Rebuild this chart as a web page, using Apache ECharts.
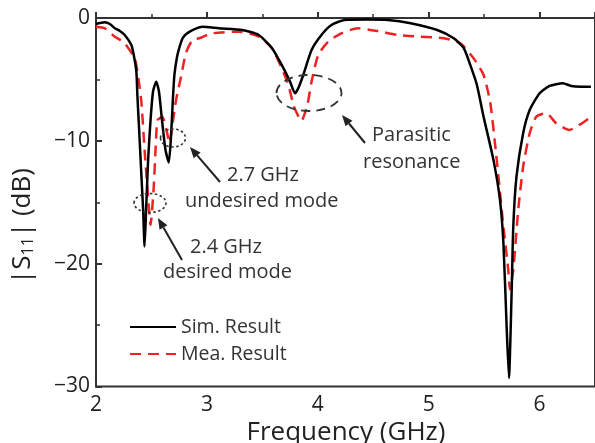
<!DOCTYPE html>
<html>
<head>
<meta charset="utf-8">
<script src="https://cdn.jsdelivr.net/npm/echarts@6/dist/echarts.min.js"></script>
<style>
html,body{margin:0;padding:0;background:#fff;}
#chart{width:595px;height:443px;}
</style>
</head>
<body>
<div id="chart"></div>
<script>
// Simulated |S11| (GHz, dB)
var simFreq = [2.000,2.036,2.080,2.125,2.170,2.215,2.259,2.319,2.340,2.364,2.373,2.389,2.407,2.425,2.438,2.452,2.470,2.492,2.514,2.543,2.568,2.595,2.626,2.656,2.675,2.693,2.707,2.729,2.751,2.781,2.814,2.870,2.960,3.109,3.318,3.467,3.586,3.675,3.750,3.795,3.825,3.869,3.944,4.033,4.123,4.242,4.451,4.630,4.838,5.077,5.226,5.316,5.375,5.435,5.495,5.584,5.643,5.674,5.703,5.724,5.748,5.763,5.792,5.852,5.911,6.001,6.090,6.210,6.284,6.374,6.463];
var simDb   = [-0.49,-0.41,-0.35,-0.49,-0.84,-1.06,-1.38,-2.20,-3.0,-4.37,-6.27,-9.1,-12.4,-15.6,-18.6,-15.6,-11.55,-8.3,-6.0,-5.18,-6.0,-8.3,-10.7,-11.77,-9.9,-6.67,-4.64,-3.25,-2.44,-1.65,-1.30,-0.98,-0.71,-0.84,-0.98,-1.38,-2.44,-3.82,-5.18,-6.13,-5.7,-4.64,-2.6,-1.38,-0.57,-0.16,-0.12,-0.16,-0.43,-0.98,-1.65,-2.44,-3.82,-5.45,-8.03,-11.55,-14.8,-18.3,-25.1,-29.3,-22.4,-17.0,-12.9,-9.38,-7.49,-6.13,-5.53,-5.31,-5.53,-5.59,-5.59];
// Measured |S11| (GHz, dB)
var meaFreq = [2.000,2.080,2.170,2.259,2.349,2.378,2.409,2.438,2.465,2.492,2.519,2.537,2.555,2.599,2.635,2.662,2.689,2.722,2.767,2.811,2.870,2.930,3.047,3.288,3.467,3.586,3.675,3.735,3.780,3.798,3.852,3.906,3.944,4.004,4.093,4.212,4.361,4.540,4.719,4.928,5.137,5.286,5.405,5.495,5.554,5.598,5.629,5.674,5.718,5.733,5.763,5.808,5.852,5.911,5.971,6.061,6.150,6.269,6.374,6.463];
var meaDb   = [-0.71,-0.84,-1.52,-2.06,-3.28,-4.64,-6.81,-10.74,-14.0,-16.84,-14.0,-10.74,-8.3,-8.06,-9.11,-10.17,-8.7,-6.67,-4.78,-2.85,-1.79,-1.65,-1.25,-1.11,-1.52,-2.44,-4.09,-5.45,-7.08,-7.49,-8.38,-7.08,-5.18,-3.01,-1.93,-1.25,-0.84,-1.06,-1.38,-1.52,-1.65,-2.06,-3.28,-4.64,-6.81,-10.2,-12.9,-17.0,-20.5,-22.1,-20.5,-15.6,-12.1,-9.38,-8.03,-7.75,-8.57,-9.11,-8.62,-8.06];
// Axis ticks
var xTicks = [2,3,4,5,6];
var yTicks = [-30,-20,-10,0];
var seriesNames = ['Sim. Result','Mea. Result'];

function pairs(xs, ys){ var out=[]; for(var i=0;i<xs.length;i++) out.push([xs[i], ys[i]]); return out; }

var FONT = '"Open Sans", "Noto Sans", Arial, sans-serif';
var TXT = '#333';

function arrow(x1,y1,x2,y2){
  var dx=x2-x1, dy=y2-y1, L=Math.sqrt(dx*dx+dy*dy), ux=dx/L, uy=dy/L;
  var hl=11, hw=4.5;
  var bx=x2-ux*hl, by=y2-uy*hl;
  return [
    {type:'line', shape:{x1:x1,y1:y1,x2:bx,y2:by}, style:{stroke:'#222',lineWidth:2}, z:100},
    {type:'polygon', shape:{points:[[x2,y2],[bx-uy*hw,by+ux*hw],[bx+uy*hw,by-ux*hw]]}, style:{fill:'#222'}, z:100}
  ];
}

var graphics = [];
// ellipses
graphics.push({type:'ellipse', shape:{cx:150,cy:203,rx:16,ry:9.5}, style:{fill:'none',stroke:'#333',lineWidth:1.6,lineDash:[2.5,2.5]}, z:100});
graphics.push({type:'ellipse', shape:{cx:173,cy:138,rx:12.5,ry:9}, style:{fill:'none',stroke:'#333',lineWidth:1.6,lineDash:[2.5,2.5]}, z:100});
graphics.push({type:'ellipse', shape:{cx:309,cy:93,rx:32.5,ry:18}, style:{fill:'none',stroke:'#333',lineWidth:1.8,lineDash:[9,6]}, z:100});
graphics = graphics.concat(arrow(220,182,190,147));
graphics = graphics.concat(arrow(182,260,158,218));
graphics = graphics.concat(arrow(365,143,342,115));
function label(t,x,y,align){
  return {type:'text', x:x, y:y, style:{text:t, font:'20px '+FONT, fill:TXT, textAlign:align||'left', textVerticalAlign:'middle'}, z:100};
}
graphics.push(label('2.7 GHz',227,175));
graphics.push(label('undesired mode',185,201));
graphics.push(label('2.4 GHz',190,247));
graphics.push(label('desired mode',163,272));
graphics.push(label('Parasitic',372,135));
graphics.push(label('resonance',363,162));
// axis titles
graphics.push({type:'text', x:346, y:433, style:{text:'Frequency (GHz)', font:'26px '+FONT, fill:'#222', textAlign:'center', textVerticalAlign:'middle'}, z:100});
graphics.push({type:'text', x:23, y:226, rotation:Math.PI/2, style:{
  text:'|S{sub|11}| (dB)', fontSize:26, fontFamily:FONT, fill:'#222', align:'center', verticalAlign:'middle',
  rich:{sub:{fontSize:16, fontFamily:FONT, fill:'#222', verticalAlign:'bottom', lineHeight:16}}
}, z:100});

var chart = echarts.init(document.getElementById('chart'), null, {renderer:'canvas'});
chart.setOption({
  animation:false,
  backgroundColor:'#fff',
  grid:{left:96, top:18, bottom:56.5, right:-4, show:true, borderColor:'#333', borderWidth:2, backgroundColor:'transparent'},
  legend:{
    orient:'vertical', left:124, top:312, itemWidth:46, itemHeight:14, itemGap:7,
    data:seriesNames,
    itemStyle:{opacity:0},
    textStyle:{fontSize:19.5, fontFamily:FONT, color:TXT}
  },
  xAxis:{
    type:'value', min:2, max:6.5, interval:1,
    axisLine:{show:true, lineStyle:{color:'#333', width:2}},
    axisTick:{show:true, inside:true, length:6, lineStyle:{color:'#333', width:2}},
    minorTick:{show:true, splitNumber:2, length:4, lineStyle:{color:'#333', width:1.5}},
    splitLine:{show:false},
    axisLabel:{fontSize:21, fontFamily:FONT, color:'#222', margin:8, showMaxLabel:false,
      formatter:function(v){ return xTicks.indexOf(v)>=0 ? String(v) : ''; }}
  },
  yAxis:{
    type:'value', min:-30, max:0, interval:10,
    axisLine:{show:true, lineStyle:{color:'#333', width:2}},
    axisTick:{show:true, inside:true, length:6, lineStyle:{color:'#333', width:2}},
    minorTick:{show:true, splitNumber:2, length:4, lineStyle:{color:'#333', width:1.5}},
    splitLine:{show:false},
    axisLabel:{fontSize:21, fontFamily:FONT, color:'#222', margin:6,
      formatter:function(v){ return yTicks.indexOf(v)<0 ? '' : (v<0 ? '\u2212'+Math.abs(v) : String(v)); }}
  },
  series:[
    {name:seriesNames[0], type:'line', data:pairs(simFreq, simDb), showSymbol:false, symbol:'none', smooth:0.2,
      color:'#000', lineStyle:{color:'#000', width:2.5}, z:3},
    {name:seriesNames[1], type:'line', data:pairs(meaFreq, meaDb), showSymbol:false, symbol:'none', smooth:0.2,
      color:'#ee2222', lineStyle:{color:'#ee2222', width:2.5, type:[11,7]}, z:2}
  ],
  graphic:graphics
});
</script>
</body>
</html>
